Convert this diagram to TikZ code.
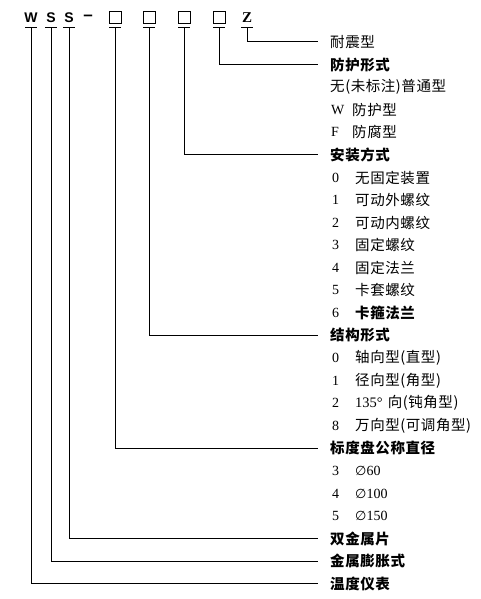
\documentclass[tikz,border=0pt]{standalone}
\usepackage{fontspec}
\setmainfont{Liberation Serif}
\newfontfamily\cjk[LetterSpace=4]{Noto Sans CJK SC}
\newfontfamily\codefont{Liberation Sans}
\newfontfamily\symfont{DejaVu Sans}
\newcommand{\dia}{{\symfont\fontsize{13}{16}\selectfont ∅}}
\usetikzlibrary{positioning}

\begin{document}
\begin{tikzpicture}[
    % GLOBAL CFG
    x=1pt, y=-1pt,
    % Styles
    code/.style={% For the letters of the type code
        inner sep=0pt,
        font=\codefont\bfseries\fontsize{14}{16}\selectfont,
        },
    slot/.style={% For the empty boxes of the code
        draw,
        line width=1pt,
        minimum size=12pt,
        inner sep=0pt,
        },
    head/.style={% For the group titles
        anchor=west,
        inner sep=0pt,
        font=\cjk\bfseries\fontsize{14.5}{16}\selectfont,
        },
    item/.style={% For the choices
        anchor=west,
        inner sep=0pt,
        font=\cjk\fontsize{14.5}{16}\selectfont,
        },
    num/.style={% For the choice numbers
        anchor=west,
        inner sep=0pt,
        font=\fontsize{14}{16}\selectfont,
        },
    lead/.style={% Leader lines
        line width=1pt,
        },
    ]
    \useasboundingbox (0,0) rectangle (480,599);

    % Draw the type code
    \node [code] (w) at (31,18) {W};
    \node [code] (s1) at (51,18) {S};
    \node [code] (s2) at (69,18) {S};
    \node [code, font=\codefont\bfseries\fontsize{17}{18}\selectfont] (dash) at (88,18) {–};
    \node [slot] (b1) at (115,18) {};
    \node [slot] (b2) at (149,18) {};
    \node [slot] (b3) at (184,18) {};
    \node [slot] (b4) at (219,18) {};
    \node [code, font=\bfseries\fontsize{15}{16}\selectfont] (z) at (247,18) {Z};

    % Ticks under the code
    \foreach \n in {w,s1,s2,b1,b2,b3,b4,z}{
        \path (\n.center) ++(0,10) coordinate (t\n);
        \draw [lead] (t\n) ++(-6,0) -- ++(12,0);
    }

    % Group titles
    \node [item] (naizhen) at (330,42.0) {耐震型};
    \node [head] (fanghu) at (330,64.6) {防护形式};
    \node [head] (anzhuang) at (330,154.9) {安装方式};
    \node [head] (jiegou) at (330,335.5) {结构形式};
    \node [head] (biaodu) at (330,448.4) {标度盘公称直径};
    \node [head] (shuangjin) at (330,538.8) {双金属片};
    \node [head] (pengzhang) at (330,561.3) {金属膨胀式};
    \node [head] (yibiao) at (330,583.9) {温度仪表};

    % Choices of the protection
    \node [item] (fh0) at (330,87.2) {无(未标注)普通型};
    \node [num] (fhW) at (331,109.7) {W};
    \node [item] (fhWt) at (352,109.7) {防护型};
    \node [num] (fhF) at (331,132.3) {F};
    \node [item] (fhFt) at (352,132.3) {防腐型};

    % Choices of the mounting
    \foreach \i/\t [count=\k from 0] in {0/无固定装置,1/可动外螺纹,2/可动内螺纹,3/固定螺纹,4/固定法兰,5/卡套螺纹}{
        \node [num] (az\i) at (332,177.5+22.58*\k) {\i};
        \node [item] (az\i t) at (355,177.5+22.58*\k) {\t};
    }
    \node [num] (az6) at (332,313.0) {6};
    \node [head] (az6t) at (355,313.0) {卡箍法兰};

    % Choices of the structure
    \node [num] (jg0) at (332,358.1) {0};
    \node [item] (jg0t) at (355,358.1) {轴向型(直型)};
    \node [num] (jg1) at (332,380.7) {1};
    \node [item] (jg1t) at (355,380.7) {径向型(角型)};
    \node [num] (jg2) at (332,403.3) {2};
    \node [item] (jg2t) at (355,403.3) {{\fontspec{Liberation Serif}135°}\hspace{5pt}向(钝角型)};
    \node [num] (jg8) at (332,425.9) {8};
    \node [item] (jg8t) at (355,425.9) {万向型(可调角型)};

    % Choices of the dial size
    \node [num] (bd3) at (332,471.0) {3};
    \node [num] (bd3t) at (355,471.0) {\dia60};
    \node [num] (bd4) at (332,493.6) {4};
    \node [num] (bd4t) at (355,493.6) {\dia100};
    \node [num] (bd5) at (332,516.2) {5};
    \node [num] (bd5t) at (355,516.2) {\dia150};

    % Leaders from the code to the titles
    \draw [lead] (tz) |- ([xshift=-12pt]naizhen.west);
    \draw [lead] (tb4) |- ([xshift=-12pt]fanghu.west);
    \draw [lead] (tb3) |- ([xshift=-12pt]anzhuang.west);
    \draw [lead] (tb2) |- ([xshift=-12pt]jiegou.west);
    \draw [lead] (tb1) |- ([xshift=-12pt]biaodu.west);
    \draw [lead] (ts2) |- ([xshift=-12pt]shuangjin.west);
    \draw [lead] (ts1) |- ([xshift=-12pt]pengzhang.west);
    \draw [lead] (tw) |- ([xshift=-12pt]yibiao.west);

\end{tikzpicture}
\end{document}
